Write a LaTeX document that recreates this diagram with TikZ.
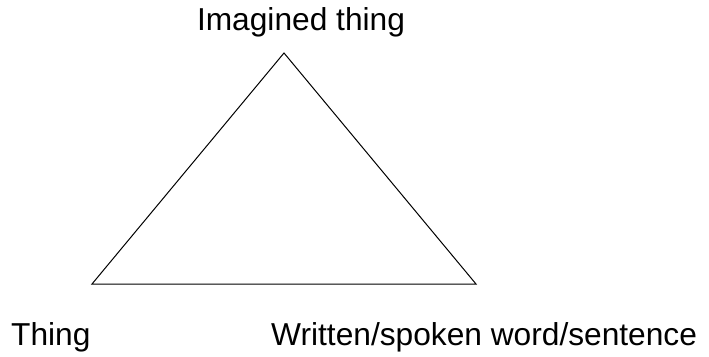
\documentclass[tikz,border=0pt]{standalone}
\usepackage{fontspec}
\setmainfont{Liberation Sans}
\usepackage{tikz}
\usetikzlibrary{positioning}

\begin{document}
\begin{tikzpicture}[x=1pt, y=-1pt, label/.style={inner sep=0pt, font=\fontsize{31.7}{38}\selectfont}, edge/.style={draw=black, line width=1pt, line join=miter}]
\useasboundingbox (0,0) rectangle (709,356);
\coordinate (imagined) at (284,53);
\coordinate (thing) at (92,284);
\coordinate (word) at (476,284);
\draw[edge] (imagined) -- (thing) -- (word) -- cycle;
\node[label, anchor=base] (timagined) at (301,30) {Imagined thing};
\node[label, anchor=base west] (tthing) at (11,345) {Thing};
\node[label, anchor=base west] (tword) at (271,345) {Written/spoken word/sentence};
\end{tikzpicture}
\end{document}
